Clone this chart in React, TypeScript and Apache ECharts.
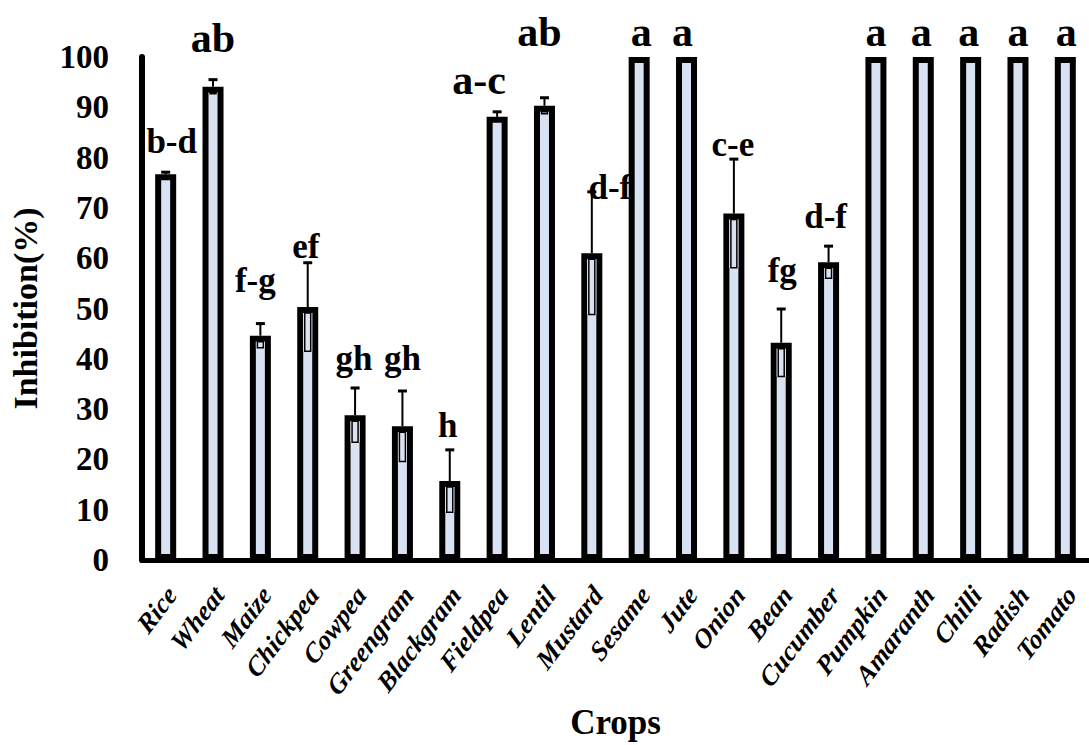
import React, { useEffect, useRef } from "react";
import * as echarts from "echarts";

const categories = [
  "Rice", "Wheat", "Maize", "Chickpea", "Cowpea", "Greengram", "Blackgram",
  "Fieldpea", "Lentil", "Mustard", "Sesame", "Jute", "Onion", "Bean",
  "Cucumber", "Pumpkin", "Amaranth", "Chilli", "Radish", "Tomato",
];
const inhibition = [
  76.7, 94.1, 44.6, 50.3, 28.8, 26.6, 15.7, 88.1, 90.3, 61.0,
  100, 100, 68.9, 43.2, 59.2, 100, 100, 100, 100, 100,
];
const errorValues = [
  0.4, 1.4, 2.4, 8.8, 5.4, 7.0, 6.2, 1.0, 1.6, 12.2,
  0, 0, 10.8, 6.7, 3.2, 0, 0, 0, 0, 0,
];
const letters = [
  "b-d", "ab", "f-g", "ef", "gh", "gh", "h", "a-c", "ab", "d-f",
  "a", "a", "c-e", "fg", "d-f", "a", "a", "a", "a", "a",
];
const letterLevel = [
  83.2, 103.8, 55.5, 62.4, 40.1, 40.0, 26.8, 95.5, 104.9, 74.1,
  104.9, 104.9, 82.6, 57.5, 68.2, 104.9, 104.9, 104.9, 104.9, 104.9,
];
const yTicks = { min: 0, max: 100, interval: 10 };

// styling: small horizontal nudges (px) of the letter annotations
const letterNudge = [6, 0, -5, -2, -1, 0, -2, -18, -5, 18, 2, -4, -1, 1, -3, 0, -2, -2, 0, 1];

const FONT = "'Liberation Serif', 'Times New Roman', serif";
const BAR_FILL = "#d9e2f3";
const BORDER = 6;

export default function App() {
  const ref = useRef<HTMLDivElement>(null);

  useEffect(() => {
    document.body.style.margin = "0";
    if (!ref.current) return;
    const chart = echarts.init(ref.current, undefined, { renderer: "svg" });

    const option: any = {
      animation: false,
      backgroundColor: "#ffffff",
      grid: { left: 139, top: 57, width: 962, height: 505.5, containLabel: false },
      xAxis: {
        type: "category",
        data: categories,
        name: "Crops",
        nameLocation: "middle",
        nameGap: 145,
        nameTextStyle: { fontFamily: FONT, fontWeight: "bold", fontSize: 35, color: "#000" },
        axisLine: { lineStyle: { color: "#000", width: 5 } },
        axisTick: { show: false },
        axisLabel: { show: false },
        splitLine: { show: false },
      },
      yAxis: {
        type: "value",
        min: yTicks.min,
        max: yTicks.max,
        interval: yTicks.interval,
        name: "Inhibition(%)",
        nameLocation: "middle",
        nameGap: 100,
        nameTextStyle: { fontFamily: FONT, fontWeight: "bold", fontSize: 34, color: "#000" },
        axisLine: { show: true, lineStyle: { color: "#000", width: 6 } },
        axisTick: { show: false },
        axisLabel: { margin: 33, fontFamily: FONT, fontWeight: "bold", fontSize: 33, color: "#000" },
        splitLine: { show: false },
      },
      series: [
        {
          type: "bar",
          data: inhibition,
          barWidth: 21,
          itemStyle: { color: BAR_FILL, borderColor: "#000", borderWidth: BORDER },
          z: 3,
        },
        {
          type: "custom",
          z: 4,
          clip: false,
          data: categories.map((_, i) => [i, inhibition[i], errorValues[i]]),
          renderItem: (params: any, api: any) => {
            const i = api.value(0);
            const v = api.value(1);
            const e = api.value(2);
            if (!e) return { type: "group", children: [] };
            const pv = api.coord([i, v]);
            const pt = api.coord([i, v + e]);
            const pl = api.coord([i, v - e]);
            const cx = pv[0];
            const children: any[] = [];
            if (pt[1] < pv[1]) {
              children.push({
                type: "line",
                shape: { x1: cx, y1: pt[1], x2: cx, y2: pv[1] },
                style: { stroke: "#000", lineWidth: 2 },
              });
            }
            children.push({
              type: "line",
              shape: { x1: cx - 4.5, y1: pt[1], x2: cx + 4.5, y2: pt[1] },
              style: { stroke: "#000", lineWidth: 3 },
            });
            const top = pv[1] + BORDER;
            const h = pl[1] - top;
            if (h > 0) {
              children.push({
                type: "rect",
                shape: { x: cx - 4.5, y: top, width: 9, height: h },
                style: { fill: "#f4f6fb" },
              });
              children.push({
                type: "rect",
                shape: { x: cx - 3, y: top, width: 6, height: h },
                style: { fill: BAR_FILL, stroke: "#000", lineWidth: 1.5 },
              });
            }
            return { type: "group", children };
          },
        },
        {
          type: "custom",
          z: 5,
          clip: false,
          data: categories.map((_, i) => [i, letterLevel[i]]),
          renderItem: (params: any, api: any) => {
            const idx = params.dataIndex;
            const p = api.coord([api.value(0), api.value(1)]);
            const txt = letters[idx];
            const big = txt.startsWith("a");
            return {
              type: "text",
              x: p[0] + letterNudge[idx],
              y: p[1],
              style: {
                text: txt,
                fill: "#000",
                font: `bold ${big ? 42 : 35}px ${FONT}`,
                align: "center",
                verticalAlign: "middle",
              },
            };
          },
        },
        {
          // rotated category labels under the axis
          type: "custom",
          z: 5,
          clip: false,
          data: categories.map((_, i) => [i, 0]),
          renderItem: (params: any, api: any) => {
            const idx = params.dataIndex;
            const p = api.coord([api.value(0), 0]);
            return {
              type: "group",
              x: p[0] + 6,
              y: p[1] + 30,
              scaleX: 0.9,
              children: [
                {
                  type: "text",
                  rotation: (50 * Math.PI) / 180,
                  style: {
                    text: categories[idx],
                    fill: "#000",
                    font: `italic bold 28px ${FONT}`,
                    align: "right",
                    verticalAlign: "middle",
                  },
                },
              ],
            };
          },
        },
      ],
    };

    chart.setOption(option);
    return () => chart.dispose();
  }, []);

  return (
    <div
      ref={ref}
      style={{ width: 1089, height: 745, position: "absolute", left: 0, top: 0 }}
    />
  );
}
